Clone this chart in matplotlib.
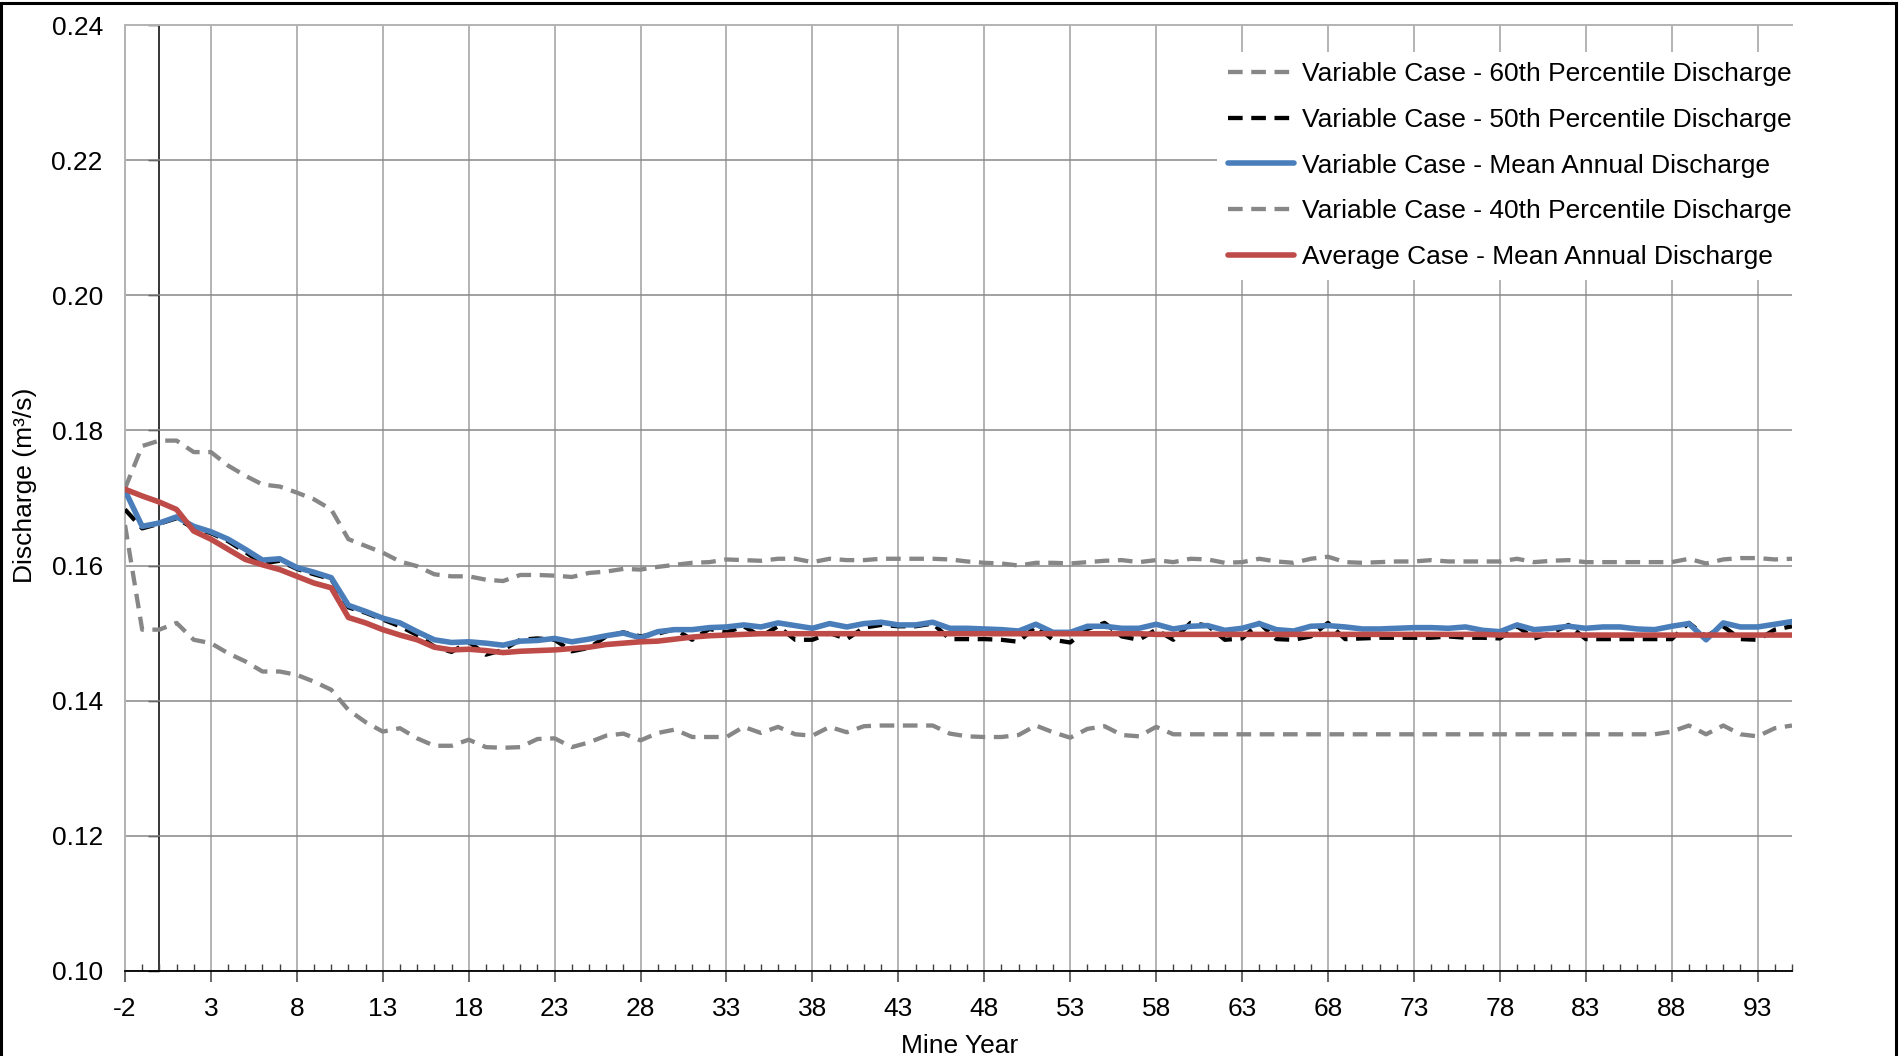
import matplotlib
matplotlib.use("Agg")
import matplotlib.pyplot as plt
from matplotlib.patches import Rectangle
from matplotlib.ticker import MultipleLocator, FormatStrFormatter

plt.rcParams['font.family'] = ['Liberation Sans', 'DejaVu Sans']
plt.rcParams['axes.unicode_minus'] = False

# Mine years -2 .. 95
years = list(range(-2, 96))

# Variable case - 60th percentile discharge (m3/s)
p60 = [0.1714, 0.1777, 0.1785, 0.1785, 0.1768, 0.1768, 0.1748, 0.1733, 0.1720, 0.1717,
       0.1708, 0.1698, 0.1683, 0.1639, 0.1629, 0.1619, 0.1606, 0.1599, 0.1587, 0.1584,
       0.1584, 0.1579, 0.1577, 0.1586, 0.1586, 0.1585, 0.1583, 0.1589, 0.1591, 0.1595,
       0.1594, 0.1598, 0.1601, 0.1604, 0.1605, 0.1609, 0.1608, 0.1607, 0.1610, 0.1610,
       0.1605, 0.1610, 0.1608, 0.1608, 0.1610, 0.1610, 0.1610, 0.1610, 0.1609, 0.1606,
       0.1604, 0.1603, 0.1600, 0.1604, 0.1604, 0.1603, 0.1605, 0.1607, 0.1608, 0.1605,
       0.1608, 0.1605, 0.1610, 0.1609, 0.1604, 0.1605, 0.1610, 0.1606, 0.1604, 0.1610,
       0.1613, 0.1605, 0.1604, 0.1605, 0.1606, 0.1606, 0.1608, 0.1606, 0.1606, 0.1606,
       0.1606, 0.1610, 0.1605, 0.1607, 0.1608, 0.1605, 0.1605, 0.1605, 0.1605, 0.1605,
       0.1605, 0.1610, 0.1603, 0.1609, 0.1611, 0.1611, 0.1609, 0.1610]

# Variable case - 50th percentile discharge
p50 = [0.1683, 0.1655, 0.1662, 0.1670, 0.1655, 0.1648, 0.1636, 0.1620, 0.1603, 0.1607,
       0.1595, 0.1587, 0.1580, 0.1538, 0.1530, 0.1520, 0.1510, 0.1497, 0.1480, 0.1472,
       0.1487, 0.1468, 0.1475, 0.1490, 0.1492, 0.1490, 0.1473, 0.1478, 0.1495, 0.1501,
       0.1495, 0.1499, 0.1506, 0.1490, 0.1506, 0.1501, 0.1510, 0.1495, 0.1510, 0.1490,
       0.1490, 0.1500, 0.1491, 0.1508, 0.1512, 0.1510, 0.1510, 0.1514, 0.1491, 0.1491,
       0.1491, 0.1490, 0.1487, 0.1510, 0.1490, 0.1486, 0.1506, 0.1515, 0.1495, 0.1490,
       0.1505, 0.1490, 0.1515, 0.1511, 0.1490, 0.1492, 0.1515, 0.1491, 0.1490, 0.1495,
       0.1515, 0.1491, 0.1492, 0.1493, 0.1493, 0.1493, 0.1493, 0.1495, 0.1493, 0.1493,
       0.1492, 0.1510, 0.1492, 0.1500, 0.1512, 0.1491, 0.1491, 0.1491, 0.1491, 0.1491,
       0.1491, 0.1515, 0.1495, 0.1510, 0.1491, 0.1490, 0.1505, 0.1510]

# Variable case - mean annual discharge
var_mean = [0.1711, 0.1658, 0.1663, 0.1672, 0.1658, 0.1650, 0.1639, 0.1624, 0.1608, 0.1610,
            0.1597, 0.1590, 0.1582, 0.1541, 0.1532, 0.1522, 0.1515, 0.1502, 0.1490, 0.1486,
            0.1487, 0.1485, 0.1482, 0.1488, 0.1489, 0.1492, 0.1487, 0.1491, 0.1496, 0.1500,
            0.1493, 0.1502, 0.1505, 0.1505, 0.1508, 0.1509, 0.1512, 0.1509, 0.1515, 0.1511,
            0.1507, 0.1514, 0.1509, 0.1514, 0.1516, 0.1512, 0.1512, 0.1516, 0.1507, 0.1507,
            0.1506, 0.1505, 0.1503, 0.1513, 0.1501, 0.1501, 0.1510, 0.1510, 0.1507, 0.1507,
            0.1513, 0.1506, 0.1510, 0.1511, 0.1504, 0.1507, 0.1514, 0.1505, 0.1503, 0.1510,
            0.1511, 0.1509, 0.1506, 0.1506, 0.1507, 0.1508, 0.1508, 0.1507, 0.1509, 0.1504,
            0.1502, 0.1512, 0.1505, 0.1507, 0.1510, 0.1507, 0.1509, 0.1509, 0.1506, 0.1505,
            0.1510, 0.1514, 0.1490, 0.1515, 0.1509, 0.1509, 0.1513, 0.1517]

# Variable case - 40th percentile discharge
p40 = [0.1660, 0.1505, 0.1505, 0.1515, 0.1490, 0.1485, 0.1470, 0.1458, 0.1443, 0.1443,
       0.1438, 0.1428, 0.1416, 0.1386, 0.1368, 0.1354, 0.1359, 0.1344, 0.1333, 0.1333,
       0.1342, 0.1331, 0.1330, 0.1331, 0.1343, 0.1344, 0.1331, 0.1338, 0.1348, 0.1351,
       0.1341, 0.1352, 0.1357, 0.1346, 0.1346, 0.1346, 0.1361, 0.1352, 0.1361, 0.1350,
       0.1348, 0.1361, 0.1353, 0.1362, 0.1363, 0.1363, 0.1363, 0.1363, 0.1351, 0.1347,
       0.1346, 0.1346, 0.1349, 0.1363, 0.1353, 0.1345, 0.1358, 0.1362, 0.1349, 0.1347,
       0.1361, 0.1350, 0.1350, 0.1350, 0.1350, 0.1350, 0.1350, 0.1350, 0.1350, 0.1350,
       0.1350, 0.1350, 0.1350, 0.1350, 0.1350, 0.1350, 0.1350, 0.1350, 0.1350, 0.1350,
       0.1350, 0.1350, 0.1350, 0.1350, 0.1350, 0.1350, 0.1350, 0.1350, 0.1350, 0.1350,
       0.1354, 0.1363, 0.1350, 0.1363, 0.1350, 0.1347, 0.1359, 0.1363]

# Average case - mean annual discharge
avg_mean = [0.1713, 0.1703, 0.1694, 0.1683, 0.1651, 0.1639, 0.1624, 0.1609, 0.1601, 0.1594,
            0.1584, 0.1574, 0.1567, 0.1523, 0.1515, 0.1505, 0.1497, 0.1490, 0.1479, 0.1475,
            0.1476, 0.1474, 0.1471, 0.1473, 0.1474, 0.1475, 0.1477, 0.1479, 0.1483, 0.1485,
            0.1487, 0.1488, 0.1491, 0.1494, 0.1496, 0.1497, 0.1498, 0.1499, 0.1499, 0.1499,
            0.1499, 0.1499, 0.1499, 0.1499, 0.1499, 0.1499, 0.1499, 0.1499, 0.1499, 0.1499,
            0.1499, 0.1499, 0.1499, 0.1499, 0.1499, 0.1499, 0.1499, 0.1499, 0.1499, 0.1499,
            0.1498, 0.1498, 0.1498, 0.1498, 0.1498, 0.1498, 0.1498, 0.1498, 0.1498, 0.1498,
            0.1498, 0.1498, 0.1498, 0.1498, 0.1498, 0.1498, 0.1498, 0.1498, 0.1498, 0.1498,
            0.1497, 0.1497, 0.1497, 0.1497, 0.1497, 0.1497, 0.1497, 0.1497, 0.1497, 0.1497,
            0.1497, 0.1497, 0.1497, 0.1497, 0.1497, 0.1497, 0.1497, 0.1497]

labels = ["Variable Case - 60th Percentile Discharge",
          "Variable Case - 50th Percentile Discharge",
          "Variable Case - Mean Annual Discharge",
          "Variable Case - 40th Percentile Discharge",
          "Average Case - Mean Annual Discharge"]

y_ticks = [0.10, 0.12, 0.14, 0.16, 0.18, 0.20, 0.22, 0.24]
x_ticks = list(range(-2, 94, 5))

FS = 19
W, H = 1900, 1056
fig = plt.figure(figsize=(W / 100, H / 100), dpi=100)
L, R, T, B = 125, 1792, 25.4, 970.6
ax = fig.add_axes([L / W, 1 - B / H, (R - L) / W, (B - T) / H])

dash = (3.4, 2.0)
ax.plot(years, p60, color='#878787', lw=3.1, dashes=dash, label=labels[0], zorder=3)
ax.plot(years, p50, color='black', lw=3.1, dashes=dash, label=labels[1], zorder=4)
ax.plot(years, var_mean, color='#4A7EBB', lw=4.0, solid_capstyle='round',
        solid_joinstyle='round', label=labels[2], zorder=5)
ax.plot(years, p40, color='#878787', lw=3.1, dashes=dash, label=labels[3], zorder=3)
ax.plot(years, avg_mean, color='#BE4B48', lw=4.0, solid_capstyle='round',
        solid_joinstyle='round', label=labels[4], zorder=6)

ax.set_xlim(-2, 95)
ax.set_ylim(0.10, 0.24)
ax.set_xticks(x_ticks)
ax.xaxis.set_minor_locator(MultipleLocator(1))
ax.set_yticks(y_ticks)
ax.yaxis.set_major_formatter(FormatStrFormatter('%.2f'))

ax.set_axisbelow(True)
ax.xaxis.grid(True, which='major', color='#B3B3B3', lw=1.4)
ax.yaxis.grid(True, which='major', color='#878787', lw=1.1)
ax.get_ygridlines()[-1].set_visible(False)

for side in ('left', 'top'):
    ax.spines[side].set_color('#B3B3B3')
    ax.spines[side].set_linewidth(1.4)
ax.spines['right'].set_visible(False)
ax.spines['bottom'].set_color('black')
ax.spines['bottom'].set_linewidth(1.3)

ax.tick_params(axis='x', which='major', direction='out', length=8, width=1.1,
               color='#404040', labelsize=FS, pad=11)
ax.tick_params(axis='x', which='minor', direction='in', length=5, width=1.0,
               color='#404040')
ax.tick_params(axis='y', which='major', length=0, labelsize=FS, pad=16)

# vertical axis line crossing at mine year 0, with outward tick marks
sec = ax.secondary_yaxis(2 / 97)
sec.set_yticks(y_ticks)
sec.tick_params(axis='y', direction='out', length=8, width=1.0, color='black',
                labelleft=False)
sec.spines['left'].set_color('black')
sec.spines['left'].set_linewidth(1.1)

leg = ax.legend(loc='upper right', bbox_to_anchor=(1.006, 0.972), fontsize=FS,
                frameon=True, fancybox=False, handlelength=2.5, handletextpad=0.3,
                labelspacing=0.82, borderpad=0.4, borderaxespad=0.0)
leg.get_frame().set_facecolor('white')
leg.get_frame().set_edgecolor('none')
leg.get_frame().set_alpha(1.0)
leg.set_zorder(10)

fig.text(25 / W, 1 - 485 / H, 'Discharge (m³/s)', rotation=90, ha='center',
         va='center', fontsize=FS)
fig.text(960 / W, 1 - 1046 / H, 'Mine Year', ha='center', va='center', fontsize=FS)

fig.patches.append(Rectangle((1 / W, -0.02), 1895 / W, 1 - 3 / H + 0.02,
                             transform=fig.transFigure, fill=False,
                             edgecolor='black', lw=2.2))

fig.savefig('out.png', dpi=100)
